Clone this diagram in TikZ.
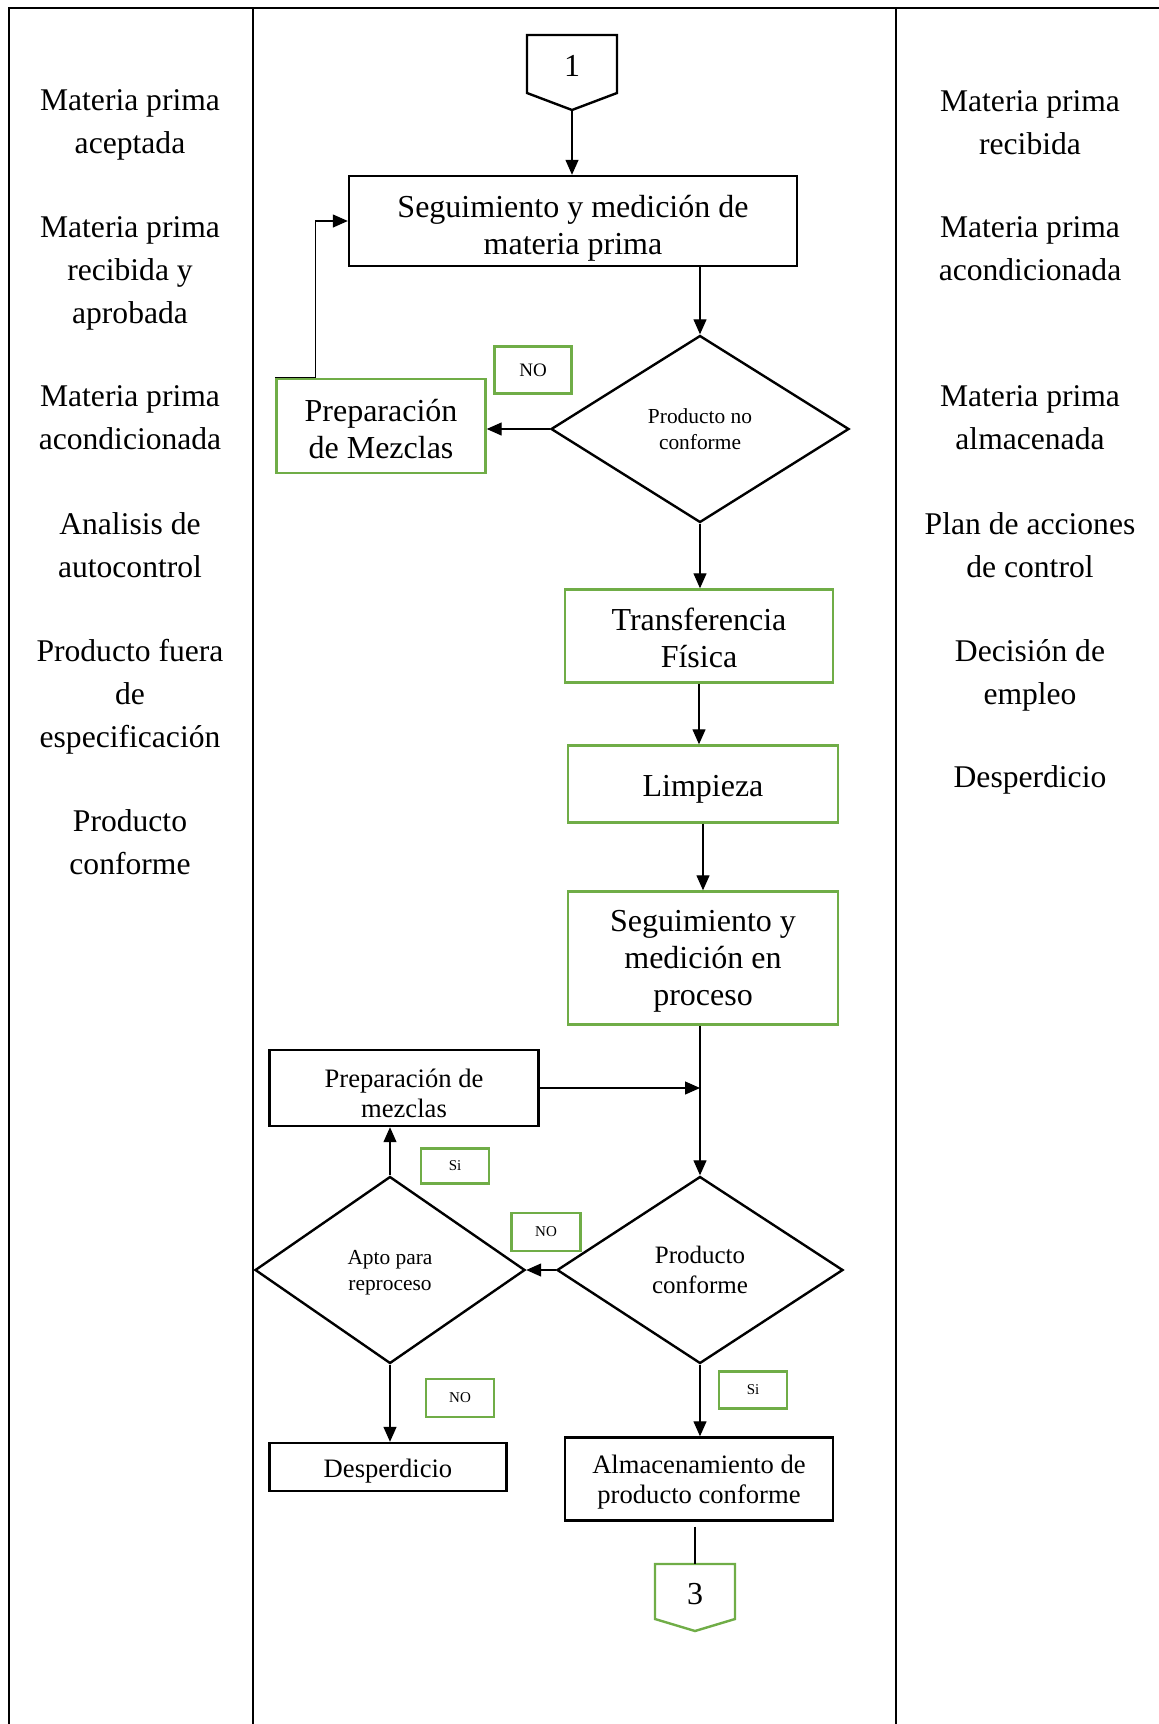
\documentclass[tikz,border=0pt]{standalone}
\usepackage{fontspec}
\setmainfont{Liberation Serif}
\usetikzlibrary{shapes.geometric,arrows.meta}
\definecolor{boxgreen}{RGB}{112,173,71}
\newcommand*\pageheight{1724}
\tikzset{
    flowbox/.style 2 args={
        draw,
        line width=2.4pt,
        rectangle,
        minimum width=#1,
        minimum height=#2,
        inner sep=0pt,
        align=center,
        execute at end node=\strut,
        text depth=0pt,
        font=\fontsize{32}{37}\selectfont
    },
    greenbox/.style 2 args={flowbox={#1}{#2}, draw=boxgreen},
    smallbox/.style 2 args={flowbox={#1}{#2}, font=\fontsize{26.6}{30}\selectfont},
    decision/.style 2 args={
        draw,
        diamond,
        line width=2.4pt,
        minimum width=#1,
        minimum height=#2,
        inner sep=0pt,
        align=center,
        execute at end node=\strut,
        text depth=0pt,
        font=\fontsize{21.4}{26}\selectfont
    },
    answer/.style 2 args={
        draw=boxgreen,
        line width=2.4pt,
        minimum width=#1,
        minimum height=#2,
        inner sep=0pt,
        font=\fontsize{15}{18}\selectfont
    },
    flow/.style={line width=1.3pt, -{Triangle[length=15pt,width=13pt]}},
    side/.style={align=center, font=\fontsize{31.6}{43}\selectfont}
}

\begin{document}
\begin{tikzpicture}[x=1pt,y=-1pt]
    \useasboundingbox (0,0) rectangle (1159,\pageheight);

    % Draw the table lines.
    \draw[line width=2.4pt] (9,\pageheight) -- (9,8) -- (1159,8);
    \draw[line width=2.4pt] (253,8) -- (253,\pageheight);
    \draw[line width=2.4pt] (896,8) -- (896,\pageheight);

    % Left column (inputs).
    \node[side] (l1) at (130,125) {Materia prima\\aceptada};
    \node[side] (l2) at (130,273) {Materia prima\\recibida y\\aprobada};
    \node[side] (l3) at (130,418) {Materia prima\\acondicionada};
    \node[side] (l4) at (130,545) {Analisis de\\autocontrol};
    \node[side] (l5) at (130,697) {Producto fuera\\de\\especificación};
    \node[side] (l6) at (130,842) {Producto\\conforme};

    % Right column (outputs).
    \node[side] (r1) at (1030,123) {Materia prima\\recibida};
    \node[side] (r2) at (1030,249) {Materia prima\\acondicionada};
    \node[side] (r3) at (1030,418) {Materia prima\\almacenada};
    \node[side] (r4) at (1030,545) {Plan de acciones\\de control};
    \node[side] (r5) at (1030,675) {Decisión de\\empleo};
    \node[side] (r6) at (1030,780) {Desperdicio};

    % Off-page connector 1.
    \coordinate (c1tip) at (572,110);
    \draw[line width=2.4pt] (527,35) -- (617,35) -- (617,93) -- (c1tip) -- (527,93) -- cycle;
    \node[font=\fontsize{32}{37}\selectfont] (c1) at (572,66) {1};

    % Upper part of the flow.
    \node[flowbox={448pt}{90pt}, text height=67.4pt] (box1) at (573,221) {Seguimiento y medición de\\materia prima};
    \node[decision={298pt}{187pt}] (dia1) at (700,429) {Producto no\\conforme};
    \node[answer={77pt}{47pt}, font=\fontsize{19}{22}\selectfont] (no1) at (533,370) {NO};
    \node[greenbox={209pt}{94pt}, text height=64.8pt] (prep1) at (381,426) {Preparación\\de Mezclas};
    \node[greenbox={268pt}{93pt}, text height=63.3pt] (tf) at (699,636) {Transferencia\\Física};
    \node[greenbox={270pt}{77pt}, text depth=0.1pt] (limp) at (703,784) {Limpieza};
    \node[greenbox={270pt}{133pt}] (seg2) at (703,958) {Seguimiento y\\medición en\\proceso};

    % Lower part of the flow.
    \node[smallbox={269pt}{76pt}, text height=58.2pt] (prep2) at (404,1088) {Preparación de\\mezclas};
    \node[decision={286pt}{187pt}, font=\fontsize{25}{30}\selectfont] (dia2) at (700,1270) {Producto\\conforme};
    \node[decision={270pt}{187pt}] (dia3) at (390,1270) {Apto para\\reproceso};
    \node[answer={68pt}{35pt}] (si1) at (455,1166) {Si};
    \node[answer={69pt}{38pt}] (no2) at (546,1232) {NO};
    \node[answer={68pt}{38pt}] (no3) at (460,1398) {NO};
    \node[answer={68pt}{37pt}] (si2) at (753,1390) {Si};
    \node[smallbox={237pt}{48pt}, text depth=0.2pt] (desp) at (388,1467) {Desperdicio};
    \node[smallbox={268pt}{83pt}] (alm) at (699,1479) {Almacenamiento de\\producto conforme};

    % Off-page connector 3.
    \coordinate (c3top) at (695,1564);
    \draw[line width=2.4pt, draw=boxgreen] (655,1564) -- (735,1564) -- (735,1619) -- (695,1631) -- (655,1619) -- cycle;
    \node[font=\fontsize{32}{37}\selectfont] (c3) at (695,1594) {3};

    % Connectors.
    \draw[flow] (c1tip) -- (box1.north -| c1tip);
    \draw[flow] (dia1.north |- box1.south) -- (dia1.north);
    \draw[flow] (dia1.west) -- (dia1.west -| prep1.east);
    \draw[flow] (prep1.north west) -- ++(40,0) |- (box1.west);
    \draw[flow] (dia1.south) -- (dia1.south |- tf.north);
    \draw[flow] (tf.south) -- (tf.south |- limp.north);
    \draw[flow] (limp.south) -- (limp.south |- seg2.north);
    \draw[flow] (dia2.north |- seg2.south) -- (dia2.north);
    \draw[flow] (prep2.east) -- (prep2.east -| dia2.north);
    \draw[flow] (dia2.west) -- (dia3.east);
    \draw[flow] (dia3.north) -- (dia3.north |- prep2.south);
    \draw[flow] (dia3.south) -- (dia3.south |- desp.north);
    \draw[flow] (dia2.south) -- (dia2.south |- alm.north);
    \draw[line width=1.3pt, shorten <=5pt] (alm.south -| c3top) -- (c3top);

\end{tikzpicture}
\end{document}
